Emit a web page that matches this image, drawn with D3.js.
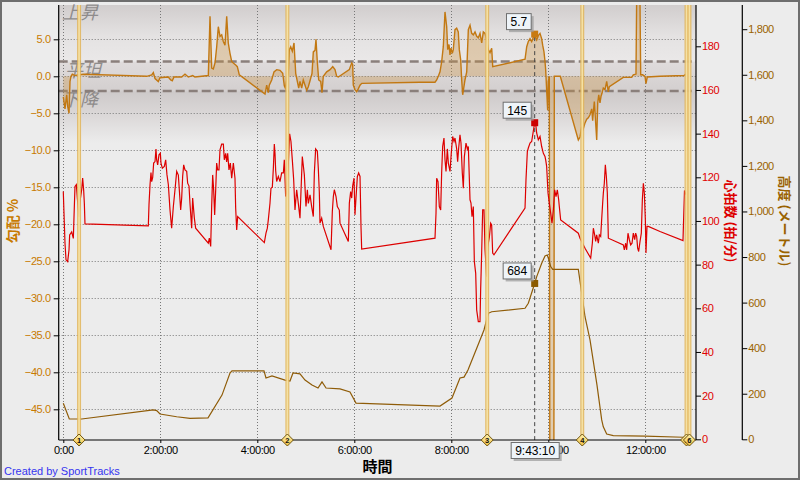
<!DOCTYPE html>
<html><head><meta charset="utf-8">
<script src="https://cdn.jsdelivr.net/npm/d3@7"></script>
<style>body{margin:0;background:#ececec;}svg{display:block;}</style>
</head><body><svg id="c" width="800" height="480"></svg>
<script>
// ---------- data (time in hours) ----------
const hrTime = [0.000,0.014,0.035,0.056,0.090,0.118,0.131,0.173,0.207,0.221,0.241,0.269,0.289,0.324,0.351,0.379,0.399,0.420,0.434,0.447,
1.753,1.767,1.788,1.808,1.822,1.843,1.863,1.891,1.911,1.925,1.946,1.973,2.001,2.014,2.042,2.083,2.111,2.138,2.166,2.200,2.234,2.269,2.303,2.338,2.372,2.392,2.420,2.441,2.461,2.482,2.509,2.544,2.564,2.592,2.612,2.647,2.667,2.702,2.729,
2.990,3.011,3.039,3.059,3.080,3.100,3.121,3.142,3.162,3.183,3.210,3.231,3.265,3.300,3.320,3.348,3.368,3.389,3.416,3.444,3.472,3.506,3.540,3.554,3.575,3.595,
4.145,4.179,4.207,4.227,4.262,4.282,4.310,4.331,4.351,4.365,4.379,4.399,4.434,4.468,4.502,4.537,4.557,4.585,4.605,4.640,4.667,4.694,4.722,4.750,4.777,4.812,4.846,4.880,4.928,4.970,
5.004,5.032,5.052,5.087,5.121,5.155,5.176,5.203,5.238,5.258,5.279,5.293,5.327,5.361,5.520,5.547,5.568,5.588,5.623,5.650,5.691,5.705,5.877,5.898,5.925,5.946,5.966,5.994,6.014,6.035,6.063,6.090,6.118,6.138,6.152,
7.664,7.685,7.698,7.726,7.753,7.781,7.801,7.822,7.849,7.870,7.891,7.918,7.939,7.973,8.001,8.028,8.056,8.076,8.111,8.131,8.152,8.179,8.200,8.227,8.248,8.269,8.303,8.331,8.351,8.386,8.406,8.427,8.454,8.475,8.503,8.523,8.557,8.592,8.605,8.626,8.647,8.674,8.695,8.729,8.750,8.784,8.812,8.832,8.853,8.880,
9.520,9.540,9.568,9.588,9.623,9.657,9.719,9.746,9.760,9.794,9.829,9.863,9.898,9.932,9.946,9.966,9.994,10.021,10.049,10.076,10.104,10.131,10.159,10.186,10.214,10.227,10.255,
10.619,10.654,10.757,10.874,10.908,10.929,10.956,10.977,10.997,11.032,11.052,11.080,11.100,11.121,11.135,11.155,11.176,11.197,11.217,11.238,
11.547,11.568,11.595,11.616,11.643,11.671,11.698,11.726,11.753,11.781,11.801,11.822,11.843,11.863,11.891,11.918,11.939,11.960,11.980,12.001,12.014,12.035,12.062,12.303,12.777,12.808,12.839];
const hrBpm = [113.5,103.6,89.8,82.2,81.4,86.8,93.6,95,92,102,115.8,116.6,110.5,102,110,114.3,119.6,114,108,98.7,
97.8,107.4,116.6,122.2,118,120,126.5,127.2,132.9,128,125.7,130.3,131,126.5,124.2,125,128,121.1,116.6,105.1,96.7,106.6,114.3,122.7,121,114.3,105,110.5,120.4,125.7,123.4,122.7,117.3,116,108,96.7,110.5,101.3,96.7,
89.8,92.1,88.3,106.6,121.1,114.3,102.8,114.3,126.5,123.4,123.4,132.6,135.2,135.2,128,131,127,131,123.4,126.5,119.6,126.5,119.6,105.9,95.9,102,
90.1,94.4,96.7,100.5,108.2,115,115.5,124.2,135.2,131,123,118.1,120.4,118,122,122,128,111.2,113,126.5,139.9,136.4,128,118.9,105,114.3,108,101.3,129.5,121.1,
106.6,114.3,108,112,106.6,102,122,133,132,124,113,99,101.3,97.5,86.8,104.3,111.2,114.3,111.2,106.6,105,99,90.6,108.2,113.5,110.5,116,119.6,102.8,110.5,120.4,122,120.4,97.5,87.1,
92.1,103.6,119.6,118,106.6,105,122,134.1,138,128,122.7,133,126.5,122.7,131.5,138.7,136.4,138,133,127.2,133.4,139.5,135.7,122,115,129.5,135.7,133,134.1,109.7,108.2,102,106.6,81.4,76,59.3,53.9,53.9,68.4,85.3,105.1,105.1,87,74.5,88,92.5,99,98.2,85.3,84.5,
105.9,118.9,131.8,133.4,135.7,136.4,145,143.3,140.3,137.2,138.7,134.1,131,129.5,128,125,112.8,108.2,103.6,99,105,114.3,111.2,114.3,109.7,106.6,100.5,
94.4,92.1,87.5,83,89.8,96.7,93.6,90.6,93.6,89.8,93.6,92.9,100.5,108.2,112.8,117.3,125.7,120.4,112.8,92.1,
89,86.8,89.8,86.8,94.4,91.4,89,89.8,94.4,91.4,94.4,92.9,87.5,86,90.6,94.4,109.7,117.3,112.8,100.5,85.3,97.5,97.5,95.2,91,114,112];

const elevTime = [0,0.124,0.379,1.856,1.926,1.994,2.338,2.612,2.984,3.272,3.437,3.478,4.138,4.179,4.303,4.571,4.674,4.736,4.880,4.984,5.128,5.252,5.334,5.417,5.705,5.911,6.035,7.767,8.014,8.179,8.262,8.344,8.551,8.674,8.763,8.833,9.520,9.588,9.719,9.761,9.864,9.932,9.979,10.014,10.049,10.091,10.619,10.689,10.757,10.860,11.004,11.101,11.134,11.204,11.340,11.994,12.784,12.839];
const elevMeters = [158,89,89,129,126,111,99,92,94,194,291,300,300,269,278,260,256,291,287,260,238,225,252,225,221,208,159,146,181,269,273,304,414,480,553,560,575,597,684,714,773,805,809,787,758,746,746,641,538,436,238,85,55,23,16,14,9,9];

const gradTime = [0,0.035,0.070,0.091,0.118,0.138,0.159,0.186,0.241,0.412,1.720,1.823,1.856,1.891,1.959,1.994,2.165,2.214,2.247,2.282,2.441,2.509,2.577,2.668,2.715,2.990,
3.025,3.060,3.093,3.128,3.163,3.196,3.231,3.266,3.299,3.334,3.369,3.402,3.437,3.472,3.505,3.561,3.588,3.629,4.159,4.194,4.227,4.247,4.297,4.344,4.400,4.468,4.524,4.557,4.577,4.606,4.639,4.660,4.689,4.722,4.757,4.792,4.825,4.854,4.880,4.915,4.948,4.984,
5.019,5.052,5.087,5.128,5.155,5.190,5.210,5.237,5.266,5.307,5.334,5.361,5.431,5.499,5.555,5.602,5.637,5.670,5.897,5.946,5.967,5.979,6.014,6.049,6.082,6.118,6.153,7.355,7.664,7.699,7.732,7.767,7.802,7.835,7.870,7.905,7.926,7.953,7.973,7.994,
8.021,8.041,8.076,8.111,8.144,8.165,8.194,8.214,8.235,8.256,8.282,8.318,8.351,8.386,8.421,8.454,8.489,8.524,8.557,8.592,8.627,8.660,8.695,8.730,8.763,8.798,8.833,8.854,9.520,9.555,9.588,9.623,9.657,9.719,9.746,9.761,9.794,9.829,9.863,9.884,9.911,9.932,9.946,9.966,9.987,
10.000,10.021,10.035,10.112,10.124,10.247,10.619,10.654,10.689,10.709,10.722,10.757,10.792,10.825,10.860,10.895,10.915,10.928,10.949,10.969,10.998,11.019,11.040,11.066,11.087,11.107,11.134,11.169,11.204,11.237,11.258,11.546,11.720,11.753,11.808,11.835,11.876,11.905,11.946,11.994,12.014,12.041,12.303,12.798,12.839];
const gradPct = [-2.8,-4.4,-2.5,-4.1,-5.0,-0.7,0.0,0.3,0.1,0.3,0.0,0.2,0.5,-0.3,-0.7,-0.2,-0.1,-0.5,-0.6,-0.1,-0.1,0.3,-0.1,0.1,-0.1,0.1,
8.1,1.1,1.0,1.8,4.0,6.7,5.4,5.6,4.7,4.2,8.1,4.5,3.1,2.0,1.8,1.5,1.3,0.2,-2.4,-1.2,-2.2,-1.2,-0.5,0.6,0.9,0.8,0.4,-1.3,-1.6,-0.5,0.5,3.6,4.0,3.4,4.5,0.4,-0.7,-1.6,-0.7,-1.6,-0.5,-1.2,
-1.9,-1.4,-0.6,0.4,3.3,3.5,5.0,2.0,-0.5,-0.7,-2.2,0.0,0.6,0.9,1.3,0.9,0.0,-0.1,0.9,1.8,1.6,-1.2,-1.8,-2.1,-1.7,-1.2,-0.95,-0.8,-0.8,-0.5,0.0,0.6,2.0,4.0,8.7,6.7,3.6,4.3,2.9,3.8,
3.1,3.6,6.3,6.5,6.0,3.6,2.2,-0.5,-2.5,-1.6,-0.5,0.6,6.3,6.9,5.8,5.6,6.0,5.4,5.2,5.8,4.5,6.0,5.8,4.9,3.6,3.2,3.8,1.3,2.3,4.0,4.7,5.1,4.7,5.7,5.1,4.9,5.5,5.8,5.1,4.2,3.3,2.0,0.85,-1.85,-4.6,
-0.7,0.0,-70,-70,0.0,0.0,-8.6,-8.2,-6.8,-7.3,-7.1,-6.3,-5.8,-5.6,-5.2,-4.4,-6.0,-4.9,-3.4,-5.5,-8.6,-3.6,-2.5,-3.6,-2.7,-2.3,-1.6,-1.8,-0.7,-2.1,-1.4,-0.15,-0.15,0.2,0.3,20,20,0.2,0.2,0.0,-1.0,-0.1,0.0,0.1,0.3];

const gradTicks = [5,0,-5,-10,-15,-20,-25,-30,-35,-40,-45];
const hrTicks = [0,20,40,60,80,100,120,140,160,180];
const elevTicks = [0,200,400,600,800,1000,1200,1400,1600,1800];
const timeTicks = [0,2,4,6,8,10,12];
const lapTimes = [0.325,4.62,8.74,10.70,12.85,12.91];
const lapNames = ["1","2","3","4","5","6"];
const bandNames = ["上昇","平坦","下降"];
const bandLimits = [2,-2];
const cursorTime = 9.7194, cursorLabel = "9:43:10";
const cursorGrad = 5.7, cursorHr = 145, cursorElev = 684;

// ---------- drawing ----------
const svg = d3.select("#c");
const P = {l:58.7, r:696, t:5, b:440};
const x  = d3.scaleLinear().domain([0,12]).range([63.3,645.3]);
const yG = d3.scaleLinear().domain([0,-45]).range([76.3,409.3]);
const yH = d3.scaleLinear().domain([0,180]).range([439.3,46.3]);
const yE = d3.scaleLinear().domain([0,1800]).range([439.3,29.2]);
const FONT = "'Liberation Sans', Arial, sans-serif";
const CJK = "'Noto Sans CJK JP', sans-serif";

const defs = svg.append("defs");
defs.append("clipPath").attr("id","pc").append("rect")
  .attr("x",P.l).attr("y",P.t).attr("width",P.r-P.l).attr("height",P.b-P.t);
function lg(id, stops){
  const g = defs.append("linearGradient").attr("id",id).attr("x1",0).attr("y1",0).attr("x2",0).attr("y2",1);
  stops.forEach(s=>g.append("stop").attr("offset",s[0]).attr("stop-color",s[1]));
}
lg("gUp",[[0,"#d1cdcd"],[0.55,"#e4e2e2"],[1,"#eae8e8"]]);
lg("gFlat",[[0,"#e0dcdc"],[1,"#d3cfcf"]]);
lg("gDown",[[0,"#cdc9c9"],[0.5,"#dcd9d9"],[1,"#ececec"]]);
const dg = defs.append("linearGradient").attr("id","dia").attr("x1",0).attr("y1",0).attr("x2",0).attr("y2",1);
dg.append("stop").attr("offset",0).attr("stop-color","#fff2b0");
dg.append("stop").attr("offset",1).attr("stop-color","#f0c040");

// frame
svg.append("rect").attr("x",1).attr("y",1).attr("width",798).attr("height",478)
  .attr("fill","#ececec").attr("stroke","#6e6e6e").attr("stroke-width",2);

// plot background bands
const bg = svg.append("g").attr("clip-path","url(#pc)");
bg.append("rect").attr("x",P.l).attr("y",P.t).attr("width",P.r-P.l).attr("height",P.b-P.t).attr("fill","#ececec");
bg.append("rect").attr("x",P.l).attr("y",P.t).attr("width",P.r-P.l).attr("height",yG(bandLimits[0])-P.t).attr("fill","url(#gUp)");
bg.append("rect").attr("x",P.l).attr("y",yG(bandLimits[0])).attr("width",P.r-P.l).attr("height",yG(bandLimits[1])-yG(bandLimits[0])).attr("fill","url(#gFlat)");
bg.append("rect").attr("x",P.l).attr("y",yG(bandLimits[1])).attr("width",P.r-P.l).attr("height",yG(-9)-yG(bandLimits[1])).attr("fill","url(#gDown)");

// band labels
const bl = [[62,19],[65,77],[62,106]];
svg.append("g").selectAll("text").data(bandNames).join("text")
  .attr("x",(d,i)=>bl[i][0]).attr("y",(d,i)=>bl[i][1])
  .attr("font-family",CJK).attr("font-size",18).attr("font-style","italic")
  .attr("fill","#7c7a7a").attr("opacity",0.8).text(d=>d);

// grid
const grid = svg.append("g").attr("stroke","#777").attr("stroke-width",1).attr("stroke-dasharray","1,2");
grid.selectAll("line.h").data(gradTicks).join("line").attr("class","h")
  .attr("x1",P.l).attr("x2",P.r).attr("y1",d=>Math.round(yG(d))+0.5).attr("y2",d=>Math.round(yG(d))+0.5);
grid.selectAll("line.v").data(timeTicks).join("line").attr("class","v")
  .attr("y1",P.t).attr("y2",P.b).attr("x1",d=>Math.round(x(d))+0.5).attr("x2",d=>Math.round(x(d))+0.5);

// band limit dashed lines
svg.append("g").selectAll("line").data(bandLimits).join("line")
  .attr("x1",P.l).attr("x2",P.r).attr("y1",d=>yG(d)).attr("y2",d=>yG(d))
  .attr("stroke","#8a7f7b").attr("stroke-width",2.5).attr("stroke-dasharray","9,4");

// series
const data = svg.append("g").attr("clip-path","url(#pc)");
const gData = gradTime.map((t,i)=>[t,gradPct[i]]);
data.append("path").datum(gData)
  .attr("d",d3.area().x(d=>x(d[0])).y0(yG(0)).y1(d=>yG(d[1])))
  .attr("fill","#c98f3c").attr("fill-opacity",0.33);
data.append("path").datum(gData)
  .attr("d",d3.line().x(d=>x(d[0])).y(d=>yG(d[1])))
  .attr("fill","none").attr("stroke","#c27812").attr("stroke-width",1.4);
data.append("path").datum(elevTime.map((t,i)=>[t,elevMeters[i]]))
  .attr("d",d3.line().x(d=>x(d[0])).y(d=>yE(d[1])))
  .attr("fill","none").attr("stroke","#8f5c08").attr("stroke-width",1.2);
data.append("path").datum(hrTime.map((t,i)=>[t,hrBpm[i]]))
  .attr("d",d3.line().x(d=>x(d[0])).y(d=>yH(d[1])))
  .attr("fill","none").attr("stroke","#dd0000").attr("stroke-width",1.2);

// lap lines
const laps = svg.append("g");
laps.selectAll("line.o").data(lapTimes).join("line").attr("class","o")
  .attr("x1",d=>x(d)).attr("x2",d=>x(d)).attr("y1",P.t).attr("y2",P.b)
  .attr("stroke","#e2b55a").attr("stroke-width",4).attr("opacity",0.85);
laps.selectAll("line.i").data(lapTimes).join("line").attr("class","i")
  .attr("x1",d=>x(d)).attr("x2",d=>x(d)).attr("y1",P.t).attr("y2",P.b)
  .attr("stroke","#f8e6aa").attr("stroke-width",1.6).attr("opacity",0.9);

// cursor
const cx = x(cursorTime);
svg.append("line").attr("x1",cx).attr("x2",cx).attr("y1",yG(cursorGrad)+3).attr("y2",P.b)
  .attr("stroke","#444").attr("stroke-width",1).attr("stroke-dasharray","4,3");

// axes
function styleAxis(g, color){
  g.select(".domain").remove();
  g.selectAll("line").attr("stroke","#000");
  g.selectAll("text").attr("fill",color).attr("font-family",FONT).attr("font-size",11).attr("letter-spacing","-0.4px");
}
const minus = d3.format(".1f");
svg.append("g").attr("transform",`translate(${P.l},0)`)
  .call(d3.axisLeft(yG).tickValues(gradTicks).tickSize(5).tickPadding(3).tickFormat(d=>minus(d)))
  .call(g=>styleAxis(g,"#c87a00"));
svg.append("g").attr("transform",`translate(${P.r},0)`)
  .call(d3.axisRight(yH).tickValues(hrTicks).tickSize(5).tickPadding(1))
  .call(g=>styleAxis(g,"#e00000"));
svg.append("g").attr("transform",`translate(742.3,0)`)
  .call(d3.axisRight(yE).tickValues(elevTicks).tickSize(5).tickPadding(1).tickFormat(d3.format(",")))
  .call(g=>styleAxis(g,"#9a6200"));
svg.append("g").attr("transform",`translate(0,${P.b})`)
  .call(d3.axisBottom(x).tickValues(timeTicks).tickSize(3).tickPadding(3).tickFormat(h=>h===0?"0:00":h+":00:00"))
  .call(g=>styleAxis(g,"#000"));
const ax = svg.append("g").attr("stroke","#000").attr("stroke-width",1.2);
ax.append("line").attr("x1",P.l).attr("x2",P.l).attr("y1",P.t).attr("y2",P.b);
ax.append("line").attr("x1",P.r).attr("x2",P.r).attr("y1",P.t).attr("y2",P.b);
ax.append("line").attr("x1",742.3).attr("x2",742.3).attr("y1",P.t).attr("y2",P.b);
ax.append("line").attr("x1",P.l).attr("x2",P.r).attr("y1",P.b).attr("y2",P.b);

// lap diamonds
const dm = svg.append("g").selectAll("g").data(lapTimes).join("g")
  .attr("transform",d=>`translate(${x(d)},${P.b})`);
dm.append("path").attr("d","M0,-6L6,0L0,6L-6,0Z").attr("fill","url(#dia)").attr("stroke","#6e5410").attr("stroke-width",1);
dm.append("text").attr("y",2.6).attr("text-anchor","middle").attr("font-family",FONT).attr("font-size",7.5)
  .attr("font-weight","bold").attr("fill","#111").text((d,i)=>lapNames[i]);

// cursor markers & tooltips
function marker(yv, color){
  svg.append("rect").attr("x",cx-3.5).attr("y",yv-3.5).attr("width",7).attr("height",7).attr("fill",color);
}
marker(yG(cursorGrad),"#c87a10");
marker(yH(cursorHr),"#cc0000");
marker(yE(cursorElev),"#8b5a00");
function tip(label, right, bottom, center){
  const g = svg.append("g");
  const t = g.append("text").attr("font-family",FONT).attr("font-size",12).attr("fill","#000").text(label);
  const w = t.node().getComputedTextLength()+8, h = 16;
  const x0 = center!==undefined ? center - w/2 : right - w;
  const y0 = bottom - h;
  g.insert("rect","text").attr("x",x0+3).attr("y",y0+3).attr("width",w).attr("height",h).attr("fill","#9a9a9a").attr("opacity",0.7);
  g.insert("rect","text").attr("x",x0+0.5).attr("y",y0+0.5).attr("width",w).attr("height",h).attr("fill","#eef4f9").attr("stroke","#6f6f6f");
  t.attr("x",x0+4.5).attr("y",y0+13);
}
tip(String(cursorGrad), cx-4, yG(cursorGrad)-5);
tip(String(cursorHr), cx-4, yH(cursorHr)-5);
tip(String(cursorElev), cx-4, yE(cursorElev)-5);
tip(cursorLabel, null, 458, cx);

// titles
svg.append("text").attr("transform",`translate(18,221) rotate(-90)`).attr("text-anchor","middle")
  .attr("font-family",CJK).attr("font-size",14).attr("font-weight","bold").attr("fill","#c87a00").text("勾配 %");
svg.append("text").attr("transform",`translate(726,221) rotate(90)`).attr("text-anchor","middle")
  .attr("font-family",CJK).attr("font-size",13).attr("font-weight","bold").attr("fill","#dd0000").text("心拍数 (拍/分)");
svg.append("text").attr("transform",`translate(780,221) rotate(90)`).attr("text-anchor","middle")
  .attr("font-family",CJK).attr("font-size",13).attr("font-weight","bold").attr("fill","#9a6200").text("高度 (メートル)");
svg.append("text").attr("x",377.5).attr("y",472).attr("text-anchor","middle")
  .attr("font-family",CJK).attr("font-size",15).attr("font-weight","bold").attr("fill","#000").text("時間");
svg.append("text").attr("x",4).attr("y",475).attr("font-family",FONT).attr("font-size",11)
  .attr("fill","#3535f0").text("Created by SportTracks");
</script></body></html>
